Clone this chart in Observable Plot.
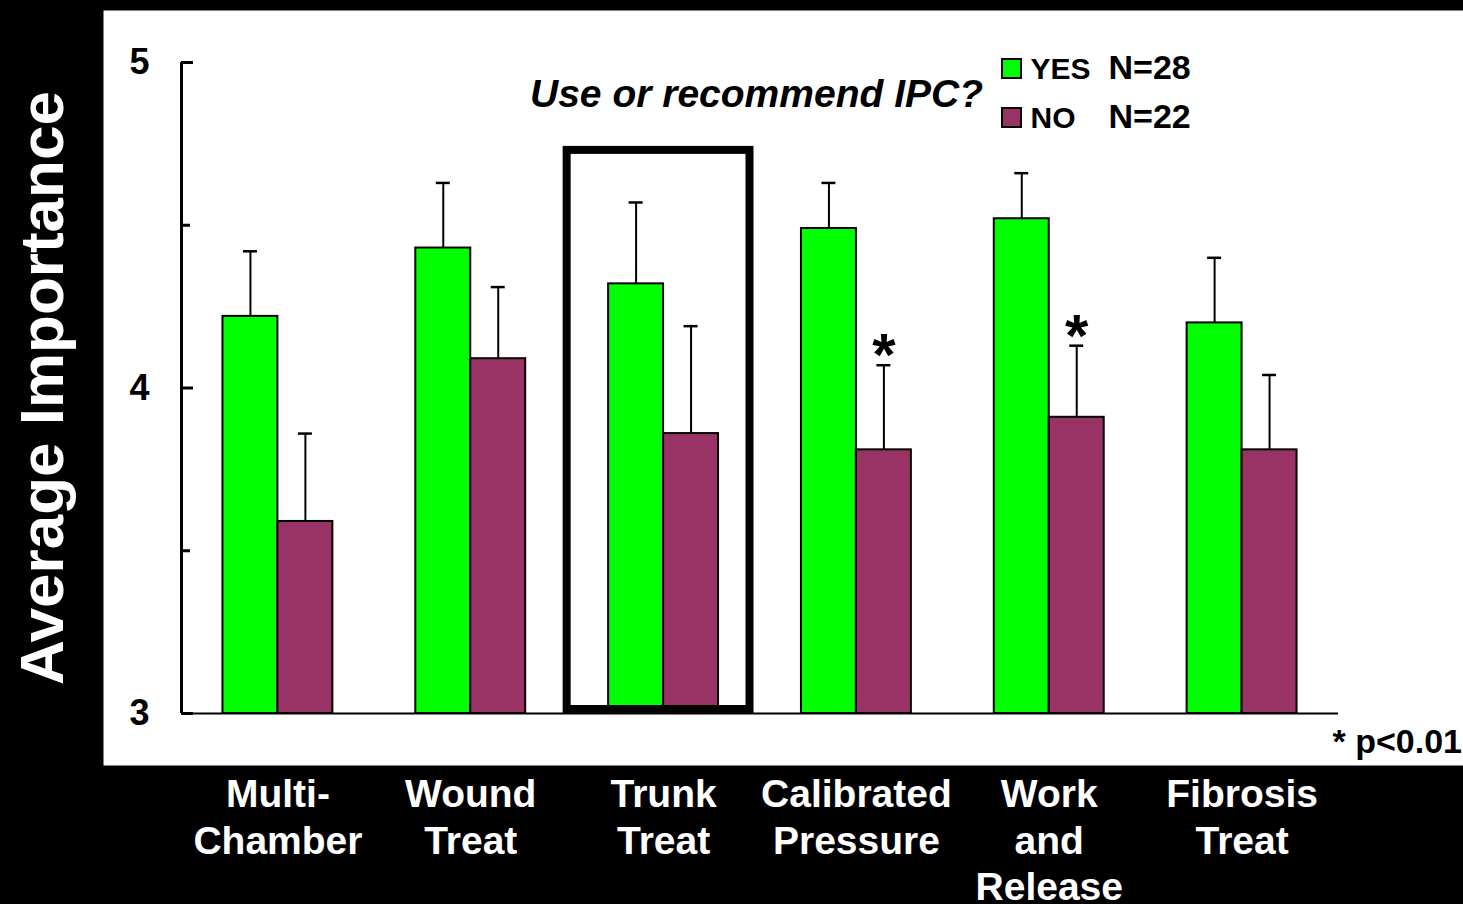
<!DOCTYPE html>
<html>
<head>
<meta charset="utf-8">
<script src="https://cdn.jsdelivr.net/npm/d3@7"></script>
<script src="https://cdn.jsdelivr.net/npm/@observablehq/plot@0.6"></script>
<style>
  html, body { margin: 0; padding: 0; background: #000; overflow: hidden; }
  #chart svg { display: block; }
</style>
</head>
<body>
<div id="chart"></div>
<script>
// Feature importance ratings, grouped by whether the respondent uses or recommends IPC
const categories = ["Multi-\nChamber", "Wound\nTreat", "Trunk\nTreat", "Calibrated\nPressure", "Work\nand\nRelease", "Fibrosis\nTreat"];
const series = ["YES", "NO"];
const seriesN = ["N=28", "N=22"];
const seriesColors = ["#00ff00", "#993366"];

const yesMean = [4.22, 4.43, 4.32, 4.49, 4.52, 4.20];
const yesErr  = [0.20, 0.20, 0.25, 0.14, 0.14, 0.20];
const noMean  = [3.59, 4.09, 3.86, 3.81, 3.91, 3.81];
const noErr   = [0.27, 0.22, 0.33, 0.26, 0.22, 0.23];
const noSignificant = [false, false, false, true, true, false];

const yTicks = [3, 3.5, 4, 4.5, 5];
const highlighted = 2; // Trunk Treat

// Long-format rows for the grouped bars
const barW = 0.285;
const rows = categories.flatMap((c, i) => [
  {i, series: "YES", value: yesMean[i], err: yesErr[i], sig: false},
  {i, series: "NO", value: noMean[i], err: noErr[i], sig: noSignificant[i]}
]);
const barLeft = d => d.series === "YES" ? d.i - barW : d.i;
const barRight = d => d.series === "YES" ? d.i : d.i + barW;
const barMid = d => (barLeft(d) + barRight(d)) / 2;
const errTop = d => d.value + d.err;

const font = "'Liberation Sans', Arial, Helvetica, sans-serif";
const legendRows = series.map((s, k) => ({s, n: seriesN[k], k}));

const legendMarks = legendRows.flatMap(r => [
  Plot.dot([r], {frameAnchor: "top-left", dx: 830, dy: 6 + 49 * r.k, symbol: "square", r: 10.7,
    fill: d => d.s, stroke: "black", strokeWidth: 2}),
  Plot.text([r], {frameAnchor: "top-left", dx: 849, dy: 16 + 49 * r.k, text: d => d.s,
    textAnchor: "start", lineAnchor: "bottom", fontSize: 30, fontWeight: "bold", fill: "black"}),
  Plot.text([r], {frameAnchor: "top-left", dx: 927, dy: 16 + 49 * r.k, text: d => d.n,
    textAnchor: "start", lineAnchor: "bottom", fontSize: 34, fontWeight: "bold", fill: "black"})
]);

const chart = Plot.plot({
  width: 1463,
  height: 904,
  marginLeft: 181,
  marginRight: 125,
  marginTop: 62,
  marginBottom: 191,
  style: {background: "black", color: "black", fontFamily: font, overflow: "visible"},
  x: {domain: [-0.5, categories.length - 0.5]},
  y: {domain: [3, 5]},
  color: {domain: series, range: seriesColors},
  marks: [
    // white plotting panel
    Plot.frame({fill: "white", stroke: null, insetLeft: -78, insetRight: -125, insetTop: -52, insetBottom: -52}),

    // bars
    Plot.rect(rows, {x1: barLeft, x2: barRight, y1: 3, y2: "value", fill: "series", stroke: "black", strokeWidth: 2}),

    // upper error bars
    Plot.ruleX(rows, {x: barMid, y1: "value", y2: errTop, stroke: "black", strokeWidth: 2}),
    Plot.ruleY(rows, {y: errTop, x1: barMid, x2: barMid, insetLeft: -7, insetRight: -7, stroke: "black", strokeWidth: 2.5}),

    // significance markers
    Plot.text(rows.filter(d => d.sig), {x: barMid, y: errTop, text: () => "*", lineAnchor: "bottom", dy: 10,
      fontSize: 60, fontWeight: "bold", fill: "black"}),

    // highlight box around one category
    Plot.rect([highlighted], {x1: i => i - 0.5, x2: i => i + 0.5, y1: 3, y2: 4.73, insetRight: 10, insetBottom: 4,
      fill: "none", stroke: "black", strokeWidth: 8}),

    // axis lines
    Plot.ruleY([3], {stroke: "black", strokeWidth: 2}),
    Plot.ruleX([-0.5], {y1: 3, y2: 5, stroke: "black", strokeWidth: 3}),

    // y axis ticks (inward) and labels
    Plot.axisY(yTicks.filter(t => Number.isInteger(t)), {tickSize: -12, tickPadding: 44, strokeWidth: 3,
      tickFormat: d => String(d), fontSize: 36, fontWeight: "bold", label: null, color: "black"}),
    Plot.axisY(yTicks.filter(t => !Number.isInteger(t)), {tickSize: -9, tickFormat: () => "", strokeWidth: 3, label: null, color: "black"}),

    // category labels
    Plot.axisX(d3.range(categories.length), {tickFormat: i => categories[i], tickSize: 0, tickPadding: 60,
      fontSize: 39, fontWeight: "bold", lineHeight: 1.2, color: "white", label: null}),

    // y axis title
    Plot.text(["Average Importance"], {frameAnchor: "left", dx: -119, rotate: -90, text: d => d,
      textAnchor: "middle", lineAnchor: "bottom", fontSize: 62, fontWeight: "bold", fill: "white"}),

    // chart title
    Plot.text(["Use or recommend IPC?"], {frameAnchor: "top-left", dx: 575, dy: 44, text: d => d,
      textAnchor: "middle", lineAnchor: "bottom", fontSize: 39, fontWeight: "bold", fontStyle: "italic", fill: "black"}),

    ...legendMarks,

    // footnote
    Plot.text(["* p<0.01"], {frameAnchor: "bottom-right", dx: -6, dy: 39, text: d => d,
      textAnchor: "start", lineAnchor: "bottom", fontSize: 34, fontWeight: "bold", fill: "black"})
  ]
});

document.getElementById("chart").append(chart);
</script>
</body>
</html>
